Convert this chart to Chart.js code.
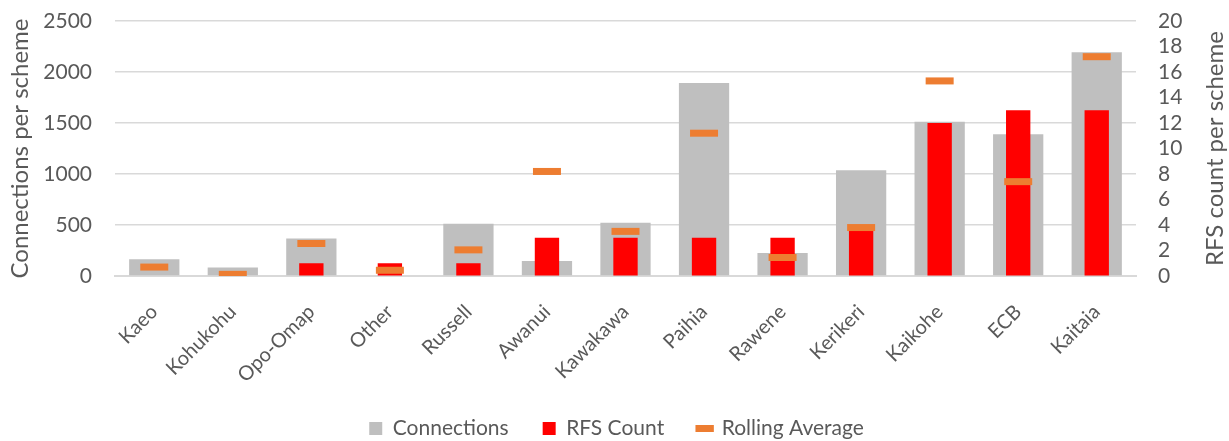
<!DOCTYPE html>
<html>
<head>
<meta charset="utf-8">
<script src="https://cdn.jsdelivr.net/npm/chart.js@4"></script>
<style>
    html, body { margin: 0; padding: 0; background: #fff; }
    #wrap { width: 1229px; height: 441px; }
</style>
</head>
<body>
<div id="wrap"><canvas id="schemeChart"></canvas></div>
<script>
const schemes = ['Kaeo', 'Kohukohu', 'Opo-Omap', 'Other', 'Russell', 'Awanui', 'Kawakawa',
    'Paihia', 'Rawene', 'Kerikeri', 'Kaikohe', 'ECB', 'Kaitaia'];
const connections = [165, 84, 368, 0, 513, 148, 523, 1892, 226, 1037, 1512, 1389, 2193];
const rfsCount = [0, 0, 1, 1, 1, 3, 3, 3, 3, 4, 12, 13, 13];
const rollingAverage = [0.7, 0.13, 2.55, 0.45, 2.05, 8.2, 3.5, 11.2, 1.45, 3.8, 15.3, 7.4, 17.2];
const leftTicks = [0, 500, 1000, 1500, 2000, 2500];
const rightTicks = [0, 2, 4, 6, 8, 10, 12, 14, 16, 18, 20];
const rightTitle = 'RFS count per scheme';

const textColor = '#595959';
const fontFamily = 'Lato, "Open Sans", sans-serif';

// Chart.js turns a right-hand title top-to-bottom; the original reads bottom-to-top
const rightTitlePlugin = {
    id: 'rightTitle',
    afterDraw(chart) {
        const scale = chart.scales.y1;
        const c = chart.ctx;
        c.save();
        c.translate(scale.right - 14, (scale.top + scale.bottom) / 2);
        c.rotate(-Math.PI / 2);
        c.fillStyle = textColor;
        c.font = '24px ' + fontFamily;
        c.textAlign = 'center';
        c.textBaseline = 'middle';
        c.fillText(rightTitle, 0, 0);
        c.restore();
    }
};

const ctx = document.getElementById('schemeChart').getContext('2d');
const schemeChart = new Chart(ctx, {
    type: 'bar',
    data: {
        labels: schemes,
        datasets: [{
            label: 'Connections',
            data: connections,
            yAxisID: 'y',
            backgroundColor: '#BFBFBF',
            grouped: false,
            categoryPercentage: 1,
            barPercentage: 0.64,
            pointStyle: 'rect',
            order: 3
        }, {
            label: 'RFS Count',
            data: rfsCount,
            yAxisID: 'y1',
            backgroundColor: '#FF0000',
            grouped: false,
            categoryPercentage: 1,
            barPercentage: 0.31,
            pointStyle: 'rect',
            order: 2
        }, {
            type: 'line',
            label: 'Rolling Average',
            data: rollingAverage,
            yAxisID: 'y1',
            showLine: false,
            pointStyle: 'line',
            pointRadius: 14,
            pointHoverRadius: 14,
            borderColor: '#ED7D31',
            backgroundColor: '#ED7D31',
            borderWidth: 7,
            pointBorderWidth: 7,
            order: 1
        }]
    },
    options: {
        responsive: true,
        maintainAspectRatio: false,
        animation: false,
        layout: { padding: { left: 4, right: 0, top: 0, bottom: -8 } },
        plugins: {
            tooltip: { enabled: false },
            legend: {
                position: 'bottom',
                labels: {
                    usePointStyle: true,
                    boxWidth: 13,
                    boxHeight: 13,
                    padding: 34,
                    color: textColor,
                    font: { family: fontFamily, size: 21 },
                    sort: (a, b) => a.datasetIndex - b.datasetIndex
                }
            }
        },
        scales: {
            x: {
                afterFit: (scale) => { scale.height = 108; },
                grid: { display: false },
                border: { color: '#D9D9D9', width: 2 },
                ticks: {
                    color: textColor,
                    font: { family: fontFamily, size: 20 },
                    minRotation: 45,
                    maxRotation: 45,
                    autoSkip: false,
                    padding: 16
                }
            },
            y: {
                position: 'left',
                min: 0,
                max: 2500,
                afterBuildTicks: (axis) => { axis.ticks = leftTicks.map((v) => ({ value: v })); },
                afterFit: (scale) => { scale.width = 111; },
                grid: { color: '#D9D9D9', lineWidth: 1.5, tickLength: 20, tickColor: 'rgba(0,0,0,0)' },
                border: { display: false },
                ticks: {
                    color: textColor,
                    font: { family: fontFamily, size: 21 },
                    padding: 3,
                    autoSkip: false,
                    callback: (v) => String(v)
                },
                title: {
                    display: true,
                    text: 'Connections per scheme',
                    color: textColor,
                    font: { family: fontFamily, size: 24 },
                    padding: 2
                }
            },
            y1: {
                position: 'right',
                min: 0,
                max: 20,
                afterBuildTicks: (axis) => { axis.ticks = rightTicks.map((v) => ({ value: v })); },
                afterFit: (scale) => { scale.width = 93; },
                grid: { drawOnChartArea: false, tickLength: 19, tickColor: 'rgba(0,0,0,0)' },
                border: { display: false },
                ticks: {
                    color: textColor,
                    font: { family: fontFamily, size: 21 },
                    padding: 3,
                    autoSkip: false,
                    callback: (v) => String(v)
                }
            }
        }
    },
    plugins: [rightTitlePlugin]
});
</script>
</body>
</html>
